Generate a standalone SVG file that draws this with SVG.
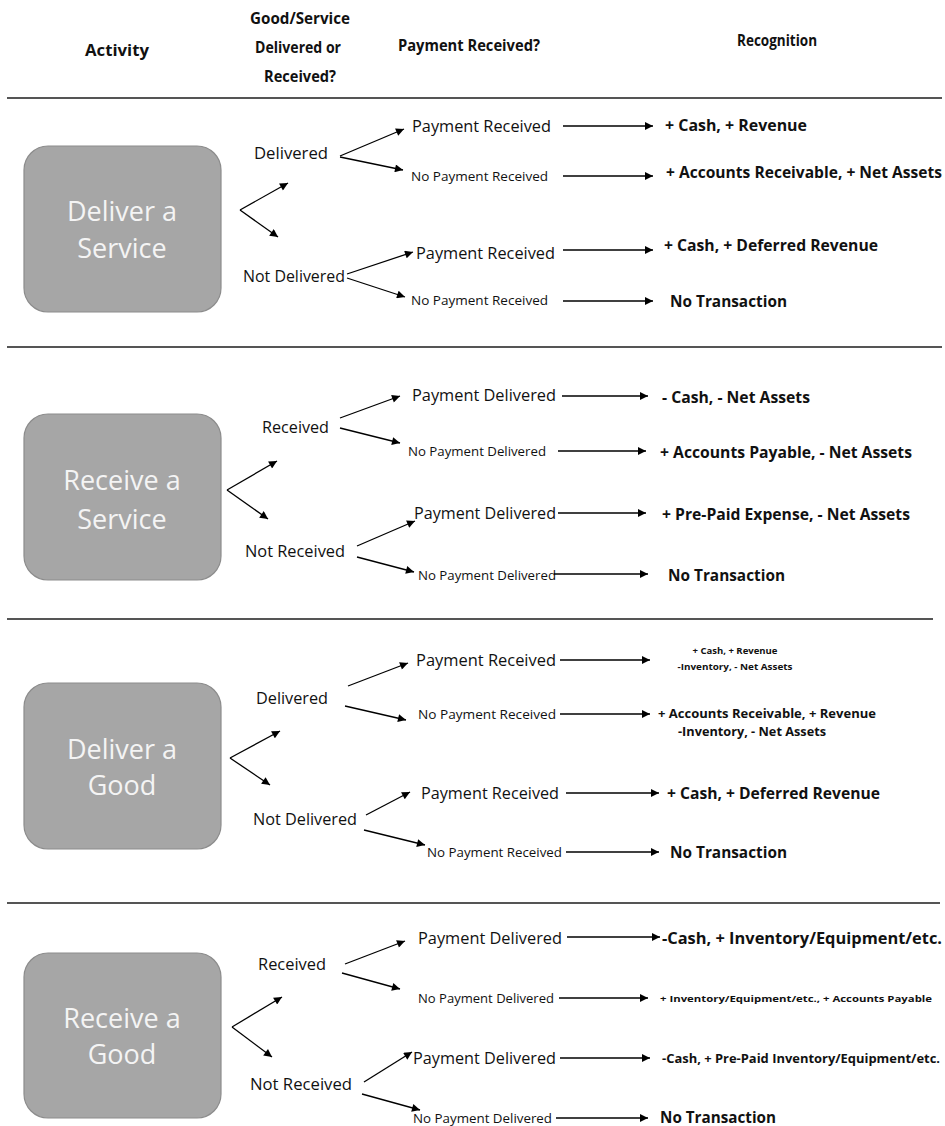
<svg xmlns="http://www.w3.org/2000/svg" width="945" height="1126" viewBox="0 0 945 1126">
<defs>
<marker id="ah" viewBox="0 0 10 10" refX="10" refY="5" markerWidth="10" markerHeight="8" orient="auto" markerUnits="userSpaceOnUse"><path d="M0,0 L10,5 L0,10 z" fill="#000"/></marker>
<style>
text{font-family:"Open Sans","Liberation Sans",sans-serif;dominant-baseline:central;fill:#111}
.hd{font-weight:bold;font-size:15.5px;text-anchor:middle}
.box{fill:#a6a6a6;stroke:#8c8c8c;stroke-width:1.2}
.bt{font-size:27px;fill:#f4f4f4;text-anchor:middle}
.lb{font-size:16px}
.pm{font-size:15.5px}
.ps{font-size:12px}
.rc{font-size:15.5px;font-weight:bold}
.rs{font-size:9.5px;font-weight:bold}
.rm{font-size:12.5px;font-weight:bold}
.sep{stroke:#555;stroke-width:2.2}
.ar{stroke:#000;stroke-width:1.3;fill:none;marker-end:url(#ah)}
</style>
</defs>
<rect width="945" height="1126" fill="#fff"/>

<g id="header">
<text class="hd" x="117" y="50" textLength="64" lengthAdjust="spacingAndGlyphs">Activity</text>
<text class="hd" x="300" y="18" textLength="100" lengthAdjust="spacingAndGlyphs">Good/Service</text>
<text class="hd" x="298" y="47" textLength="86" lengthAdjust="spacingAndGlyphs">Delivered or</text>
<text class="hd" x="300" y="76" textLength="72" lengthAdjust="spacingAndGlyphs">Received?</text>
<text class="hd" x="469" y="45" textLength="142" lengthAdjust="spacingAndGlyphs">Payment Received?</text>
<text class="hd" x="777" y="40" textLength="80" lengthAdjust="spacingAndGlyphs">Recognition</text>
</g>

<g id="separators">
<line class="sep" x1="7" y1="98" x2="942" y2="98"/>
<line class="sep" x1="7" y1="347" x2="942" y2="347"/>
<line class="sep" x1="7" y1="619" x2="933" y2="619"/>
<line class="sep" x1="7" y1="903" x2="940" y2="903"/>
</g>

<g id="node-deliver-service">
<rect class="box" x="24" y="146" width="197" height="166" rx="24"/>
<text class="bt" x="122" y="210">Deliver a</text>
<text class="bt" x="122" y="247">Service</text>
</g>
<g id="node-receive-service">
<rect class="box" x="24" y="414" width="197" height="166" rx="24"/>
<text class="bt" x="122" y="479">Receive a</text>
<text class="bt" x="122" y="518">Service</text>
</g>
<g id="node-deliver-good">
<rect class="box" x="24" y="683" width="197" height="166" rx="24"/>
<text class="bt" x="122" y="748">Deliver a</text>
<text class="bt" x="122" y="784">Good</text>
</g>
<g id="node-receive-good">
<rect class="box" x="24" y="953" width="197" height="165" rx="24"/>
<text class="bt" x="122" y="1017">Receive a</text>
<text class="bt" x="122" y="1053">Good</text>
</g>

<g id="labels-1">
<text class="lb" x="254" y="153" textLength="74" lengthAdjust="spacingAndGlyphs">Delivered</text>
<text class="lb" x="243" y="276" textLength="102" lengthAdjust="spacingAndGlyphs">Not Delivered</text>
<text class="pm" x="412" y="126" textLength="139" lengthAdjust="spacingAndGlyphs">Payment Received</text>
<text class="ps" x="411" y="176" textLength="137" lengthAdjust="spacingAndGlyphs">No Payment Received</text>
<text class="pm" x="416" y="253" textLength="139" lengthAdjust="spacingAndGlyphs">Payment Received</text>
<text class="ps" x="411" y="300" textLength="137" lengthAdjust="spacingAndGlyphs">No Payment Received</text>
<text class="rc" x="665" y="125" textLength="142" lengthAdjust="spacingAndGlyphs">+ Cash, + Revenue</text>
<text class="rc" x="666" y="172" textLength="276" lengthAdjust="spacingAndGlyphs">+ Accounts Receivable, + Net Assets</text>
<text class="rc" x="664" y="245" textLength="214" lengthAdjust="spacingAndGlyphs">+ Cash, + Deferred Revenue</text>
<text class="rc" x="670" y="301" textLength="117" lengthAdjust="spacingAndGlyphs">No Transaction</text>
</g>

<g id="labels-2">
<text class="lb" x="262" y="427" textLength="67" lengthAdjust="spacingAndGlyphs">Received</text>
<text class="lb" x="245" y="551" textLength="100" lengthAdjust="spacingAndGlyphs">Not Received</text>
<text class="pm" x="412" y="395" textLength="144" lengthAdjust="spacingAndGlyphs">Payment Delivered</text>
<text class="ps" x="408" y="451" textLength="138" lengthAdjust="spacingAndGlyphs">No Payment Delivered</text>
<text class="pm" x="414" y="513" textLength="142" lengthAdjust="spacingAndGlyphs">Payment Delivered</text>
<text class="ps" x="418" y="575" textLength="138" lengthAdjust="spacingAndGlyphs">No Payment Delivered</text>
<text class="rc" x="662" y="397" textLength="148" lengthAdjust="spacingAndGlyphs">- Cash, - Net Assets</text>
<text class="rc" x="660" y="452" textLength="252" lengthAdjust="spacingAndGlyphs">+ Accounts Payable, - Net Assets</text>
<text class="rc" x="662" y="514" textLength="248" lengthAdjust="spacingAndGlyphs">+ Pre-Paid Expense, - Net Assets</text>
<text class="rc" x="668" y="575" textLength="117" lengthAdjust="spacingAndGlyphs">No Transaction</text>
</g>

<g id="labels-3">
<text class="lb" x="256" y="698" textLength="72" lengthAdjust="spacingAndGlyphs">Delivered</text>
<text class="lb" x="253" y="819" textLength="104" lengthAdjust="spacingAndGlyphs">Not Delivered</text>
<text class="pm" x="416" y="660" textLength="140" lengthAdjust="spacingAndGlyphs">Payment Received</text>
<text class="ps" x="418" y="714" textLength="138" lengthAdjust="spacingAndGlyphs">No Payment Received</text>
<text class="pm" x="421" y="793" textLength="138" lengthAdjust="spacingAndGlyphs">Payment Received</text>
<text class="ps" x="427" y="852" textLength="135" lengthAdjust="spacingAndGlyphs">No Payment Received</text>
<text class="rs" x="735" y="650" text-anchor="middle" textLength="85" lengthAdjust="spacingAndGlyphs">+ Cash, + Revenue</text>
<text class="rs" x="735" y="666" text-anchor="middle" textLength="115" lengthAdjust="spacingAndGlyphs">-Inventory, - Net Assets</text>
<text class="rm" x="658" y="713" textLength="218" lengthAdjust="spacingAndGlyphs">+ Accounts Receivable, + Revenue</text>
<text class="rm" x="678" y="731" textLength="148" lengthAdjust="spacingAndGlyphs">-Inventory, - Net Assets</text>
<text class="rc" x="667" y="793" textLength="213" lengthAdjust="spacingAndGlyphs">+ Cash, + Deferred Revenue</text>
<text class="rc" x="670" y="852" textLength="117" lengthAdjust="spacingAndGlyphs">No Transaction</text>
</g>

<g id="labels-4">
<text class="lb" x="258" y="964" textLength="68" lengthAdjust="spacingAndGlyphs">Received</text>
<text class="lb" x="250" y="1084" textLength="102" lengthAdjust="spacingAndGlyphs">Not Received</text>
<text class="pm" x="418" y="938" textLength="144" lengthAdjust="spacingAndGlyphs">Payment Delivered</text>
<text class="ps" x="418" y="998" textLength="136" lengthAdjust="spacingAndGlyphs">No Payment Delivered</text>
<text class="pm" x="413" y="1058" textLength="143" lengthAdjust="spacingAndGlyphs">Payment Delivered</text>
<text class="ps" x="413" y="1118" textLength="139" lengthAdjust="spacingAndGlyphs">No Payment Delivered</text>
<text class="rc" x="662" y="938" textLength="280" lengthAdjust="spacingAndGlyphs">-Cash, + Inventory/Equipment/etc.</text>
<text class="rs" x="660" y="998" textLength="272" lengthAdjust="spacingAndGlyphs">+ Inventory/Equipment/etc., + Accounts Payable</text>
<text class="rm" x="662" y="1058" textLength="278" lengthAdjust="spacingAndGlyphs">-Cash, + Pre-Paid Inventory/Equipment/etc.</text>
<text class="rc" x="660" y="1117" textLength="116" lengthAdjust="spacingAndGlyphs">No Transaction</text>
</g>

<g id="connectors">
<line class="ar" x1="240" y1="210" x2="288" y2="183"/>
<line class="ar" x1="240" y1="210" x2="278" y2="237"/>
<line class="ar" x1="340" y1="156" x2="404" y2="129"/>
<line class="ar" x1="340" y1="157" x2="403" y2="170"/>
<line class="ar" x1="347" y1="274" x2="413" y2="252"/>
<line class="ar" x1="347" y1="278" x2="405" y2="297"/>
<line class="ar" x1="563" y1="126" x2="653" y2="126"/>
<line class="ar" x1="563" y1="176" x2="653" y2="176"/>
<line class="ar" x1="563" y1="250" x2="653" y2="250"/>
<line class="ar" x1="563" y1="301" x2="653" y2="301"/>
<line class="ar" x1="227" y1="490" x2="277" y2="461"/>
<line class="ar" x1="227" y1="490" x2="268" y2="519"/>
<line class="ar" x1="340" y1="418" x2="400" y2="396"/>
<line class="ar" x1="340" y1="428" x2="400" y2="443"/>
<line class="ar" x1="357" y1="546" x2="415" y2="521"/>
<line class="ar" x1="357" y1="557" x2="414" y2="572"/>
<line class="ar" x1="562" y1="396" x2="648" y2="396"/>
<line class="ar" x1="558" y1="451" x2="646" y2="451"/>
<line class="ar" x1="558" y1="513" x2="646" y2="513"/>
<line class="ar" x1="554" y1="574" x2="648" y2="574"/>
<line class="ar" x1="230" y1="758" x2="280" y2="731"/>
<line class="ar" x1="230" y1="758" x2="270" y2="785"/>
<line class="ar" x1="348" y1="686" x2="408" y2="663"/>
<line class="ar" x1="345" y1="706" x2="406" y2="720"/>
<line class="ar" x1="366" y1="815" x2="410" y2="792"/>
<line class="ar" x1="364" y1="830" x2="425" y2="845"/>
<line class="ar" x1="560" y1="660" x2="650" y2="660"/>
<line class="ar" x1="560" y1="714" x2="650" y2="714"/>
<line class="ar" x1="566" y1="793" x2="659" y2="793"/>
<line class="ar" x1="566" y1="852" x2="659" y2="852"/>
<line class="ar" x1="232" y1="1027" x2="282" y2="997"/>
<line class="ar" x1="232" y1="1027" x2="272" y2="1057"/>
<line class="ar" x1="345" y1="964" x2="405" y2="941"/>
<line class="ar" x1="342" y1="973" x2="400" y2="989"/>
<line class="ar" x1="364" y1="1082" x2="412" y2="1052"/>
<line class="ar" x1="362" y1="1094" x2="420" y2="1110"/>
<line class="ar" x1="567" y1="937" x2="660" y2="937"/>
<line class="ar" x1="559" y1="998" x2="648" y2="998"/>
<line class="ar" x1="560" y1="1058" x2="650" y2="1058"/>
<line class="ar" x1="556" y1="1118" x2="648" y2="1118"/>
</g>
</svg>
